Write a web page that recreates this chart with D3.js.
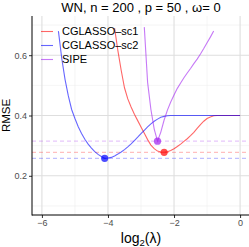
<!DOCTYPE html>
<html>
<head>
<meta charset="utf-8">
<script src="https://cdn.jsdelivr.net/npm/d3@7"></script>
<style>
  body { margin: 0; background: #fff; }
  svg { display: block; font-family: "Liberation Sans", Arial, sans-serif; }
</style>
</head>
<body>
<div class="chart"></div>
<script>
// DATA (null = outside the y limits, dropped)
var seriesNames = ['CGLASSO\u2013sc1', 'CGLASSO\u2013sc2', 'SIPE'];
var seriesColors = ['#ff0000', '#0000ff', '#a020f0'];

// log2(lambda) grid, step 0.1 from -5.5 to 0
var lambdas = d3.range(56).map(function (i) { return +(-5.5 + i * 0.1).toFixed(1); });

var sc1 = [null, null, null, null, null, null, null, null, null, null,
  null, null, null, null, null, null, null,
  0.69, 0.615, 0.55, 0.492, 0.455, 0.428, 0.404, 0.383, 0.362, 0.341,
  0.32, 0.302, 0.29, 0.282, 0.279, 0.278, 0.28, 0.284, 0.29, 0.297,
  0.305, 0.314, 0.323, 0.333, 0.344, 0.357, 0.37, 0.381, 0.39, 0.395,
  0.399, 0.4, 0.4, 0.4, 0.4, 0.4, 0.4, 0.4, 0.4];

var sc2 = [0.68, 0.59, 0.52, 0.465, 0.42, 0.39, 0.363, 0.34, 0.321, 0.305,
  0.292, 0.28, 0.271, 0.264, 0.258, 0.259, 0.261, 0.266, 0.272, 0.279,
  0.287, 0.296, 0.306, 0.317, 0.328, 0.34, 0.351, 0.362, 0.372, 0.381,
  0.388, 0.394, 0.397, 0.399, 0.4, 0.4, 0.4, 0.4, 0.4, 0.4,
  0.4, 0.4, 0.4, 0.4, 0.4, 0.4, 0.4, 0.4, 0.4, 0.4,
  0.4, 0.4, 0.4, 0.4, 0.4, 0.4];

var sipe = [null, null, null, null, null, null, null, null, null, null,
  null, null, null, null, null, null, null, null, null, null,
  null, null, null, null, null, null,
  0.693, 0.51, 0.42, 0.355, 0.315, 0.345, 0.385, 0.418, 0.445, 0.468,
  0.49, 0.508, 0.525, 0.541, 0.556, 0.572, 0.587, 0.604, 0.622, 0.641,
  0.66, 0.68, null, null, null, null, null, null, null, null];

var seriesValues = [sc1, sc2, sipe];

var xTicks = [-6, -4, -2, 0];
var xMinor = [-5, -3, -1];
var yTicks = [0.2, 0.4, 0.6];
var yMinor = [0.1, 0.3, 0.5, 0.7];

var titleText = 'WN, n = 200 , p = 50 , \u03c9= 0';

// LAYOUT
var W = 249, H = 247;
var padL = 32, padR = 250, padT = 16, padB = 215;

var x = d3.scaleLinear().domain([-6.3, 0.3]).range([padL, padR]);
var y = d3.scaleLinear().domain([0.07, 0.73]).range([padB, padT]);

var svg = d3.select('.chart').append('svg')
  .attr('width', W)
  .attr('height', H);

svg.append('defs').append('clipPath').attr('id', 'panel')
  .append('rect')
  .attr('x', padL).attr('y', padT)
  .attr('width', padR - padL).attr('height', padB - padT);

// GRID
var grid = svg.append('g');
grid.selectAll('.ymin').data(yMinor).enter().append('line')
  .attr('x1', padL).attr('x2', padR)
  .attr('y1', function (d) { return y(d); }).attr('y2', function (d) { return y(d); })
  .attr('stroke', '#efefef').attr('stroke-width', 0.6);
grid.selectAll('.xmin').data(xMinor).enter().append('line')
  .attr('y1', padT).attr('y2', padB)
  .attr('x1', function (d) { return x(d); }).attr('x2', function (d) { return x(d); })
  .attr('stroke', '#efefef').attr('stroke-width', 0.6);
grid.selectAll('.ymaj').data(yTicks).enter().append('line')
  .attr('x1', padL).attr('x2', padR)
  .attr('y1', function (d) { return y(d); }).attr('y2', function (d) { return y(d); })
  .attr('stroke', '#dedede').attr('stroke-width', 1.1);
grid.selectAll('.xmaj').data(xTicks).enter().append('line')
  .attr('y1', padT).attr('y2', padB)
  .attr('x1', function (d) { return x(d); }).attr('x2', function (d) { return x(d); })
  .attr('stroke', '#dedede').attr('stroke-width', 1.1);

// minimum of each series
var minima = seriesValues.map(function (vals, i) {
  var best = null;
  vals.forEach(function (v, j) {
    if (v != null && (best == null || v < best.v)) best = { l: lambdas[j], v: v };
  });
  best.color = seriesColors[i];
  return best;
});

var plot = svg.append('g').attr('clip-path', 'url(#panel)');

// dashed reference lines
plot.selectAll('.ref').data(minima).enter().append('line')
  .attr('x1', padL).attr('x2', padR)
  .attr('y1', function (d) { return y(d.v); }).attr('y2', function (d) { return y(d.v); })
  .attr('stroke', function (d) { return d.color; })
  .attr('stroke-opacity', 0.25)
  .attr('stroke-width', 1.2)
  .attr('stroke-dasharray', '4,3');

var line = d3.line()
  .defined(function (d) { return d[1] != null; })
  .x(function (d) { return x(d[0]); })
  .y(function (d) { return y(d[1]); });

plot.selectAll('.series').data(seriesValues).enter().append('path')
  .attr('d', function (vals) { return line(vals.map(function (v, j) { return [lambdas[j], v]; })); })
  .attr('fill', 'none')
  .attr('stroke', function (d, i) { return seriesColors[i]; })
  .attr('stroke-opacity', 0.6)
  .attr('stroke-width', 1.1);

plot.selectAll('.minpt').data(minima).enter().append('circle')
  .attr('cx', function (d) { return x(d.l); })
  .attr('cy', function (d) { return y(d.v); })
  .attr('r', 3.6)
  .attr('fill', function (d) { return d.color; })
  .attr('fill-opacity', 0.7);

// AXES
var xAxis = svg.append('g').attr('transform', 'translate(0,' + padB + ')')
  .call(d3.axisBottom(x).tickValues(xTicks).tickSize(3).tickPadding(2)
    .tickFormat(function (d) { return d < 0 ? '\u2212' + Math.abs(d) : d; }));
var yAxis = svg.append('g').attr('transform', 'translate(' + padL + ',0)')
  .call(d3.axisLeft(y).tickValues(yTicks).tickSize(3).tickPadding(2)
    .tickFormat(d3.format('.1f')));

[xAxis, yAxis].forEach(function (ax) {
  ax.select('.domain').remove();
  ax.selectAll('.tick line').attr('stroke', '#333');
  ax.selectAll('.tick text').attr('fill', '#4d4d4d').style('font-size', '9px');
});

svg.append('line').attr('x1', padL).attr('x2', padR).attr('y1', padB).attr('y2', padB)
  .attr('stroke', '#000').attr('stroke-width', 1);
svg.append('line').attr('x1', padL).attr('x2', padL).attr('y1', padT).attr('y2', padB + 0.5)
  .attr('stroke', '#000').attr('stroke-width', 1);

// TITLES
svg.append('text')
  .attr('x', (padL + padR) / 2).attr('y', 11.5)
  .attr('text-anchor', 'middle')
  .style('font-size', '13px')
  .text(titleText);

var xt = svg.append('text')
  .attr('x', (padL + padR) / 2).attr('y', 243)
  .attr('text-anchor', 'middle')
  .style('font-size', '14px');
xt.append('tspan').text('log');
xt.append('tspan').attr('dy', 3).style('font-size', '9.5px').text('2');
xt.append('tspan').attr('dy', -3).text('(\u03bb)');

svg.append('text')
  .attr('transform', 'translate(10,' + (padT + padB) / 2 + ') rotate(-90)')
  .attr('text-anchor', 'middle')
  .style('font-size', '11.5px')
  .text('RMSE');

// LEGEND
var legend = svg.append('g').attr('transform', 'translate(41,31.5)');
var items = legend.selectAll('g').data(seriesNames).enter().append('g')
  .attr('transform', function (d, i) { return 'translate(0,' + i * 14 + ')'; });
items.append('line')
  .attr('x1', 0).attr('x2', 12)
  .attr('stroke', function (d, i) { return seriesColors[i]; })
  .attr('stroke-opacity', 0.6)
  .attr('stroke-width', 1.1);
items.append('text')
  .attr('x', 21).attr('dy', '0.35em')
  .style('font-size', '11px')
  .text(function (d) { return d; });
</script>
</body>
</html>
